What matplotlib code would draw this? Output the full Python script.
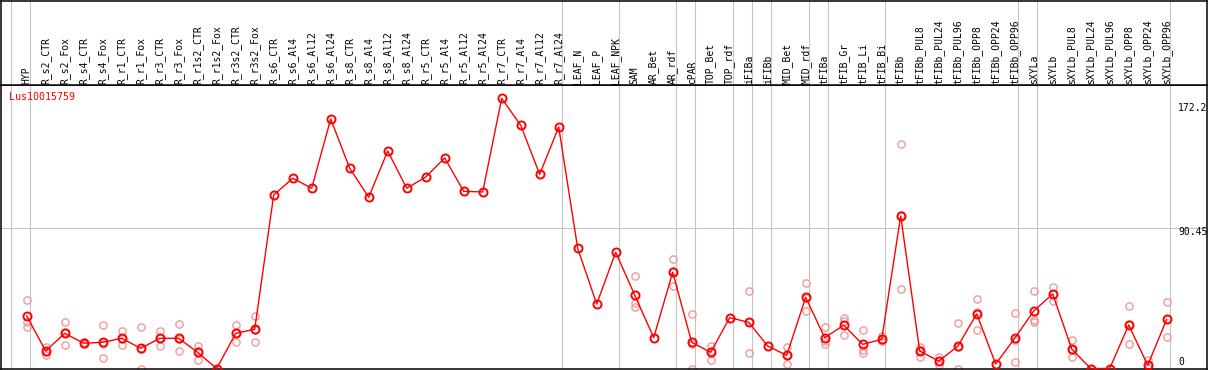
import numpy as np
import matplotlib
matplotlib.use("Agg")
import matplotlib.pyplot as plt

nan = np.nan

gene_name = "Lus10015759"

categories = [
    "HYP", "R_s2_CTR", "R_s2_Fox", "R_s4_CTR", "R_s4_Fox", "R_r1_CTR", "R_r1_Fox",
    "R_r3_CTR", "R_r3_Fox", "R_r1s2_CTR", "R_r1s2_Fox", "R_r3s2_CTR", "R_r3s2_Fox",
    "R_s6_CTR", "R_s6_Al4", "R_s6_Al12", "R_s6_Al24", "R_s8_CTR", "R_s8_Al4",
    "R_s8_Al12", "R_s8_Al24", "R_r5_CTR", "R_r5_Al4", "R_r5_Al12", "R_r5_Al24",
    "R_r7_CTR", "R_r7_Al4", "R_r7_Al12", "R_r7_Al24", "LEAF_N", "LEAF_P", "LEAF_NPK",
    "SAM", "AR_Bet", "AR_rdf", "cPAR", "TOP_Bet", "TOP_rdf", "iFIBa", "iFIBb",
    "MID_Bet", "MID_rdf", "tFIBa", "tFIB_Gr", "tFIB_Li", "tFIB_Bi", "tFIBb",
    "tFIBb_PUL8", "tFIBb_PUL24", "tFIBb_PUL96", "tFIBb_OPP8", "tFIBb_OPP24",
    "tFIBb_OPP96", "sXYLa", "sXYLb", "sXYLb_PUL8", "sXYLb_PUL24", "sXYLb_PUL96",
    "sXYLb_OPP8", "sXYLb_OPP24", "sXYLb_OPP96",
]

# group sizes (vertical separators drawn after each group)
group_sizes = [1, 28, 3, 3, 1, 2, 1, 1, 2, 1, 3, 7, 1, 7]

mean_values = [
    33.9, 11.3, 22.7, 16.3, 16.9, 19.5, 13.0, 19.5, 19.5, 10.4, 0.0, 22.7, 25.3,
    111.9, 122.7, 116.3, 161.0, 129.2, 110.5, 140.3, 116.3, 123.5, 135.8, 114.3, 113.9,
    174.3, 156.9, 125.3, 155.8, 77.5, 41.6, 75.0,
    47.4, 19.9, 62.1, 16.9, 10.4, 32.8, 29.8, 14.5, 8.5, 45.9, 19.9, 27.9, 15.6, 18.8,
    98.4, 11.3, 4.8, 14.3, 35.2, 2.9, 19.5, 37.1, 48.1, 12.6, 0.0, 0.0, 28.1, 2.1, 31.7,
]

rep_a = [
    44.0, 14.1, 29.8, 17.3, 28.1, 24.0, 26.6, 24.4, 28.5, 14.3, nan, 28.1, 33.9,
    nan, nan, nan, nan, nan, nan, nan, nan, nan, nan, nan, nan,
    nan, nan, nan, nan, nan, nan, nan,
    59.5, nan, 70.5, 35.0, 14.5, nan, 49.8, nan, 14.1, 55.0, 26.6, 32.4, 24.8, 21.0,
    144.8, 14.1, 7.2, 29.2, 44.6, nan, 35.8, 49.8, 52.4, 18.4, nan, nan, 40.1, 5.5, 42.7,
]
rep_b = [
    30.2, 8.7, 15.0, 15.6, 6.6, 15.4, 0.0, 14.3, 11.1, 5.7, nan, 17.3, 16.9,
    nan, nan, nan, nan, nan, nan, nan, nan, nan, nan, nan, nan,
    nan, nan, nan, nan, nan, nan, nan,
    42.5, nan, 53.2, 0.0, 5.7, nan, 9.8, nan, 2.7, 37.3, 15.6, 30.8, 11.9, 17.9,
    51.1, 7.6, 2.3, 0.0, 24.6, nan, 4.0, 31.3, 43.7, 7.2, nan, nan, 15.6, 0.4, 20.5,
]
rep_c = [
    26.6, 10.9, 23.3, 16.0, 16.0, 19.1, 12.4, 19.8, 18.9, 11.2, nan, 22.7, 25.1,
    nan, nan, nan, nan, nan, nan, nan, nan, nan, nan, nan, nan,
    nan, nan, nan, nan, nan, nan, nan,
    39.5, nan, 62.6, 15.7, 11.0, nan, 29.8, nan, 8.7, 45.4, 17.5, 21.4, 10.2, 17.6,
    99.3, 12.2, 5.0, 13.7, 36.3, nan, 18.7, 29.8, 48.1, 12.2, nan, nan, 28.6, 0.4, 31.9,
]

axis_labels = ["172.2", "90.45", "0"]
grid_value = 90.45

# ---------------------------------------------------------------- layout
W, H = 1209, 370
fig = plt.figure(figsize=(W / 100, H / 100), dpi=100)


def box(x0, y0, x1, y1):
    return [x0 / W, 1 - y1 / H, (x1 - x0) / W, (y1 - y0) / H]


ax = fig.add_axes(box(0.7, 85, 1207, 369))
hx = fig.add_axes(box(0.7, 0.7, 1207, 85))

# x: column i (0-based) at pixel 26.7 + 19 i
x_left = (0.7 - 26.7) / 19
x_right = (1207 - 26.7) / 19
# y: value v at pixel 368.5 - 1.55 v
y_bot = (368.5 - 369) / 1.55
y_top = (368.5 - 85) / 1.55

for a in (ax, hx):
    a.set_xlim(x_left, x_right)
    a.set_xticks([])
    a.set_yticks([])
    for s in a.spines.values():
        s.set_color("black")
        s.set_linewidth(1.1)
ax.set_ylim(y_bot, y_top)
hx.set_ylim(0, 1)

grid_c = "#c4c4c4"
bounds = np.concatenate([[0], np.cumsum(group_sizes)])
for b in bounds:
    xb = b - 1 + 3.7 / 19
    ax.axvline(xb, color=grid_c, lw=0.8, zorder=1)
    hx.axvline(xb, color=grid_c, lw=0.8, zorder=1)
ax.axhline(grid_value, color=grid_c, lw=0.8, zorder=1)

x = np.arange(len(categories))
rep_c_col = "#ee9a9a"
for reps in (rep_a, rep_b, rep_c):
    ax.plot(x, reps, ls="none", marker="o", ms=5.2, mfc="none", mec=rep_c_col,
            mew=1.0, zorder=2)
ax.plot(x, mean_values, color="#ff0000", lw=1.0, zorder=3)
ax.plot(x, mean_values, ls="none", marker="o", ms=5.8, mfc="none", mec="#ff0000",
        mew=1.4, zorder=4)

mono = "DejaVu Sans Mono"
for i, lab in enumerate(categories):
    hx.text(i, (85 - 83.5) / 84.3, lab, rotation=90, ha="center", va="bottom",
            fontsize=7, family=mono, color="black")

ax.text(9.0 / W, 1 - 96.7 / H, gene_name, transform=fig.transFigure, ha="left",
        va="center", fontsize=7.2, family=mono, color="#ff0000")

for lab, yp in zip(axis_labels, [107.7, 231.7, 361.7]):
    fig.text(1178 / W, 1 - yp / H, lab, ha="left", va="center", fontsize=7,
             family=mono, color="black")

fig.savefig("out.png", dpi=100)
